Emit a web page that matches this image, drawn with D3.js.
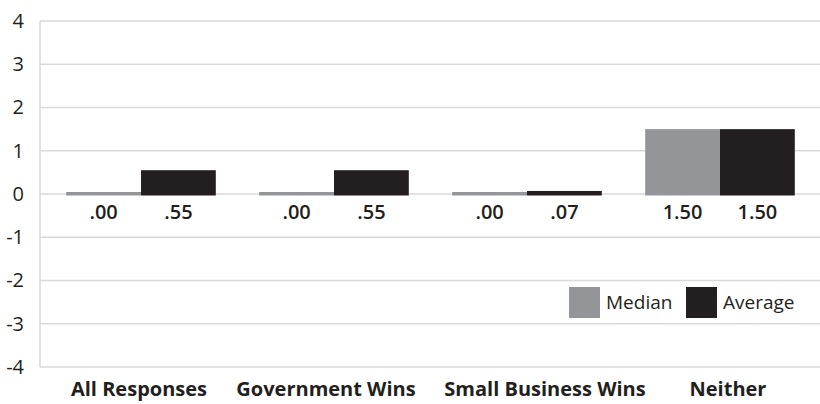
<!DOCTYPE html>
<html><head><meta charset="utf-8">
<script src="https://cdn.jsdelivr.net/npm/d3@7"></script>
<style>body{margin:0;background:#fff}svg{display:block}text{font-family:"Open Sans",sans-serif}</style>
</head><body><svg id="c" width="820" height="404"></svg>
<script>
const categories = ["All Responses", "Government Wins", "Small Business Wins", "Neither"];
const seriesNames = ["Median", "Average"];
const medianValues = [0.00, 0.00, 0.00, 1.50];
const averageValues = [0.55, 0.55, 0.07, 1.50];
const valueLabelsMedian = [".00", ".00", ".00", "1.50"];
const valueLabelsAverage = [".55", ".55", ".07", "1.50"];
const yTicks = [4, 3, 2, 1, 0, -1, -2, -3, -4];
const colors = {Median: "#939598", Average: "#231f20"};

(function(){
const svg = d3.select("#c");
const mLeft = 40, mRight = 820, mTop = 21, mBottom = 367;
const labelNudge = [-2, -8, 18, 8];
const x = d3.scaleBand().domain(categories).range([44.5, 816.5]).paddingInner(0).paddingOuter(0);
const x1 = d3.scaleBand().domain(seriesNames).range([0, x.bandwidth()]).paddingOuter(0.29).paddingInner(0);
const y = d3.scaleLinear().domain([-4, 4]).range([mBottom, mTop]);

svg.append("g").selectAll("line").data(yTicks).join("line")
  .attr("x1", mLeft).attr("x2", mRight)
  .attr("y1", d => y(d)).attr("y2", d => y(d))
  .attr("stroke", "#d9d9d9").attr("stroke-width", 1.5);
svg.append("line").attr("x1", mLeft).attr("x2", mLeft).attr("y1", mTop).attr("y2", mBottom)
  .attr("stroke", "#d9d9d9").attr("stroke-width", 1.5);
const yAxis = d3.axisLeft(y).tickValues(yTicks).tickSize(0).tickPadding(16).tickFormat(d => String(d));
const ya = svg.append("g").attr("transform", `translate(${mLeft},0)`).call(yAxis);
ya.select(".domain").remove();
ya.selectAll("text").attr("font-size", 20).attr("fill", "#231f20").style("font-family", "'Open Sans',sans-serif");

const rows = categories.map((c, i) => ({cat: c, vals: [
  {s: "Median", v: medianValues[i], lab: valueLabelsMedian[i]},
  {s: "Average", v: averageValues[i], lab: valueLabelsAverage[i]}]}));

const g = svg.append("g").selectAll("g").data(rows).join("g")
  .attr("transform", d => `translate(${x(d.cat)},0)`);
g.selectAll("rect").data(d => d.vals).join("rect")
  .attr("x", d => x1(d.s)).attr("width", x1.bandwidth())
  .attr("y", d => d.v === 0 ? y(0) - 2 : y(Math.max(0, d.v)))
  .attr("height", d => d.v === 0 ? 3.5 : Math.abs(y(d.v) - y(0)) + 1.5)
  .attr("fill", d => colors[d.s]);
g.selectAll("text.val").data(d => d.vals).join("text").attr("class", "val")
  .attr("x", d => x1(d.s) + x1.bandwidth() / 2).attr("y", y(0) + 25)
  .attr("text-anchor", "middle").attr("font-size", 20).attr("font-weight", 600)
  .attr("fill", "#231f20").text(d => d.lab);

svg.append("g").selectAll("text").data(categories).join("text")
  .attr("x", (d, i) => x(d) + x.bandwidth() / 2 + labelNudge[i]).attr("y", 396)
  .attr("text-anchor", "middle").attr("font-size", 20).attr("font-weight", 700)
  .attr("fill", "#231f20").text(d => d);

const leg = svg.append("g");
const legItems = [{s: "Median", x: 569}, {s: "Average", x: 686}];
leg.selectAll("rect").data(legItems).join("rect")
  .attr("x", d => d.x).attr("y", 287).attr("width", 31).attr("height", 31)
  .attr("fill", d => colors[d.s]);
leg.selectAll("text").data(legItems).join("text")
  .attr("x", d => d.x + 37).attr("y", 309).attr("font-size", 19)
  .attr("fill", "#231f20").text(d => d.s);
})();
</script></body></html>
